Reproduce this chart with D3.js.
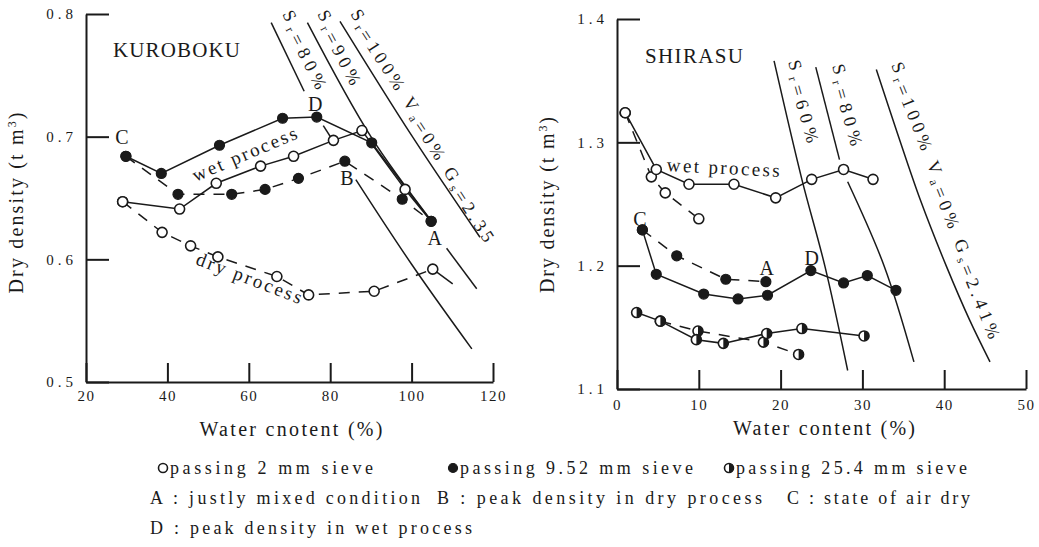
<!DOCTYPE html>
<html><head><meta charset="utf-8">
<script src="https://cdn.jsdelivr.net/npm/d3@7"></script>
<style>
body{margin:0;background:#fff;}
svg text{font-family:"Liberation Serif","Times New Roman",serif;fill:#1a1a1a;}
</style></head><body>
<svg id="c" width="1039" height="547"></svg>
<script>
// ---------- KUROBOKU data ----------
const kuroXTicks=[20,40,60,80,100,120];
const kuroYTicks=[0.5,0.6,0.7,0.8];
const kuroOpenWet=[[29.0,0.647],[43.0,0.641],[52.0,0.662],[62.9,0.676],[71.0,0.684],[80.8,0.697],[87.8,0.705],[98.4,0.657]];
const kuroOpenWetTail=[[98.4,0.657],[104.8,0.631]];
const kuroOpenDry=[[29.0,0.647],[38.7,0.622],[45.7,0.611],[52.4,0.602],[66.9,0.586],[74.7,0.571],[90.8,0.574],[105.2,0.592]];
const kuroOpenDryTail=[[105.2,0.592],[110.1,0.580]];
const kuroFilledWet=[[29.8,0.684],[38.5,0.670],[52.8,0.693],[68.3,0.715],[76.7,0.716],[90.2,0.695],[104.8,0.631]];
const kuroFilledDry=[[29.8,0.684],[42.6,0.653],[55.8,0.653],[64.0,0.657],[72.2,0.666],[83.6,0.680],[97.7,0.649],[104.8,0.631]];
const kuroSr80=[[[65.5,0.793],[73.6,0.737]],[[78.3,0.709],[81.2,0.694]],[[86.3,0.665],[100,0.596],[114.8,0.527]]];
const kuroSr90=[[[74.4,0.793],[90,0.700],[104.5,0.633]],[[108.6,0.609],[116.0,0.576]]];
const kuroSr100=[[[82.4,0.794],[100,0.701],[116.8,0.618]]];
// ---------- SHIRASU data ----------
const shiraXTicks=[0,10,20,30,40,50];
const shiraYTicks=[1.1,1.2,1.3,1.4];
const shiraOpenWet=[[1.0,1.324],[4.8,1.278],[8.8,1.266],[14.3,1.266],[19.4,1.255],[23.8,1.270],[27.7,1.278],[31.3,1.270]];
const shiraOpenDry=[[1.0,1.324],[4.2,1.272],[5.9,1.259],[10.0,1.238]];
const shiraFilledWet=[[3.1,1.229],[4.8,1.193],[10.6,1.177],[14.8,1.173],[18.4,1.176],[23.7,1.196],[27.7,1.186],[30.6,1.192],[34.1,1.180]];
const shiraFilledDry=[[3.1,1.229],[7.3,1.208],[13.3,1.189],[18.2,1.187]];
const shiraHalfWet=[[2.4,1.162],[5.3,1.155],[9.7,1.140],[13.0,1.137],[18.3,1.145],[22.6,1.149],[30.2,1.143]];
const shiraHalfDry=[[5.3,1.155],[9.9,1.147],[17.9,1.138],[22.2,1.128]];
const shiraSr60=[[[19.2,1.366],[22.6,1.270],[25.4,1.200],[28.2,1.115]]];
const shiraSr80=[[[24.3,1.361],[27.2,1.286]],[[28.2,1.268],[32.7,1.199],[36.3,1.122]]];
const shiraSr100=[[[31.7,1.359],[34.3,1.307],[37.1,1.253],[40.3,1.199],[43.1,1.156],[45.6,1.122]]];
// ---------- legend text ----------
const legendSieves=["passing 2 mm sieve","passing 9.52 mm sieve","passing 25.4 mm sieve"];
const legendNotes=["A : justly mixed condition","B : peak density in dry process","C : state of air dry","D : peak density in wet process"];

const svg=d3.select('#c');
const INK='#1a1a1a';
const FONT='Liberation Serif, Times New Roman, serif';

function drawMarker(g,type,cx,cy,r){
  if(type==='filled'){
    g.append('circle').attr('cx',cx).attr('cy',cy).attr('r',r).attr('fill',INK).attr('stroke',INK).attr('stroke-width',1.2);
  } else if(type==='open'){
    g.append('circle').attr('cx',cx).attr('cy',cy).attr('r',r).attr('fill','#fff').attr('stroke',INK).attr('stroke-width',1.6);
  } else if(type==='half'){
    g.append('circle').attr('cx',cx).attr('cy',cy).attr('r',r).attr('fill','#fff').attr('stroke',INK).attr('stroke-width',1.6);
    g.append('path').attr('d',`M${cx},${cy-r} A${r},${r} 0 0 1 ${cx},${cy+r} Z`).attr('fill',INK);
  }
}

function panel(cfg){
  const g=svg.append('g');
  const x=d3.scaleLinear().domain(cfg.xd).range(cfg.xr);
  const y=d3.scaleLinear().domain(cfg.yd).range(cfg.yr);
  const line=d3.line().x(d=>x(d[0])).y(d=>y(d[1]));
  const curve=d3.line().x(d=>x(d[0])).y(d=>y(d[1])).curve(d3.curveCatmullRom);
  const xa=g.append('g').attr('transform',`translate(0,${cfg.yr[0]})`)
    .call(d3.axisBottom(x).tickValues(cfg.xt).tickSizeInner(-19).tickSizeOuter(0).tickPadding(cfg.xpad).tickFormat(d3.format('d')));
  const ya=g.append('g').attr('transform',`translate(${cfg.xr[0]},0)`)
    .call(d3.axisLeft(y).tickValues(cfg.yt).tickSizeInner(-23).tickSizeOuter(0).tickPadding(cfg.ypad).tickFormat(d3.format('.1f')));
  [xa,ya].forEach(a=>{a.attr('font-family',FONT);
    a.selectAll('path,line').attr('stroke',INK).attr('stroke-width',2);
    a.selectAll('text').attr('font-size',15).attr('fill','#333');});
  xa.selectAll('text').attr('letter-spacing',1.5);
  ya.selectAll('text').attr('letter-spacing',4);
  cfg.sat.forEach(segs=>segs.forEach(s=>{
    g.append('path').attr('d',(s.length>2?curve:line)(s)).attr('fill','none').attr('stroke',INK).attr('stroke-width',1.5);
  }));
  cfg.series.forEach(s=>{
    g.append('path').attr('d',line(s.data)).attr('fill','none').attr('stroke',INK).attr('stroke-width',1.5)
      .attr('stroke-dasharray',s.dash?'11,9':null);
  });
  cfg.series.forEach(s=>{ if(s.mk) s.data.forEach(d=>drawMarker(g,s.mk,x(d[0]),y(d[1]),5)); });
  cfg.letters.forEach(l=>{
    g.append('text').attr('x',x(l[1])).attr('y',y(l[2])).attr('text-anchor','middle').attr('dominant-baseline','central')
      .attr('font-size',20).text(l[0]);
  });
  cfg.satLabels.forEach(L=>{
    const t=g.append('text').attr('transform',`translate(${L.px},${L.py}) rotate(${L.a})`).attr('font-size',18)
      .attr('textLength',L.len).attr('lengthAdjust','spacing');
    L.parts.forEach(p=>{
      if(p[1]){ t.append('tspan').attr('dy',4).attr('font-size',12).text(p[0]); t.append('tspan').attr('dy',-4).text(''); }
      else t.append('tspan').text(p[0]);
    });
  });
  cfg.procLabels.forEach(P=>{
    g.append('text').attr('transform',`translate(${P.px},${P.py}) rotate(${P.a})`).attr('text-anchor','middle')
      .attr('font-size',19).attr('textLength',P.len).attr('lengthAdjust','spacing').text(P.t);
  });
  g.append('text').attr('x',cfg.title.x).attr('y',cfg.title.y).attr('font-size',21).attr('textLength',cfg.title.len)
    .attr('lengthAdjust','spacing').text(cfg.title.t);
  g.append('text').attr('x',cfg.xtitle.x).attr('y',cfg.xtitle.y).attr('text-anchor','middle').attr('font-size',20)
    .attr('textLength',cfg.xtitle.len).attr('lengthAdjust','spacing').text(cfg.xtitle.t);
  const yt=g.append('text').attr('transform',`translate(${cfg.ytitle.x},${cfg.ytitle.y}) rotate(-90)`).attr('text-anchor','middle')
    .attr('font-size',20).attr('textLength',cfg.ytitle.len).attr('lengthAdjust','spacing');
  yt.append('tspan').text('Dry density (t m');
  yt.append('tspan').attr('dy',-7).attr('font-size',12).text('3');
  yt.append('tspan').attr('dy',7).text(')');
}

panel({
  xd:[20,120], xr:[86,493], yd:[0.5,0.8], yr:[382,14], xt:kuroXTicks, yt:kuroYTicks, xpad:8, ypad:9,
  sat:[kuroSr80,kuroSr90,kuroSr100],
  series:[
    {data:kuroOpenDry,dash:true,mk:'open'},
    {data:kuroOpenDryTail,dash:false,mk:null},
    {data:kuroFilledDry,dash:true,mk:'filled'},
    {data:kuroOpenWetTail,dash:false,mk:null},
    {data:kuroOpenWet,dash:false,mk:'open'},
    {data:kuroFilledWet,dash:false,mk:'filled'}
  ],
  letters:[['C',28.8,0.700],['D',76.3,0.727],['B',84.1,0.666],['A',105.7,0.617]],
  satLabels:[
    {px:282,py:14,a:63,len:84,parts:[['S'],['r',1],['=80%']]},
    {px:317,py:14,a:62,len:80,parts:[['S'],['r',1],['=90%']]},
    {px:350,py:14,a:57,len:266,parts:[['S'],['r',1],['=100% V'],['a',1],['=0% G'],['s',1],['=2.35']]}
  ],
  procLabels:[{t:'wet process',px:247,py:160,a:-23,len:112},{t:'dry process',px:247,py:284,a:21,len:112}],
  title:{t:'KUROBOKU',x:113,y:57,len:127},
  xtitle:{t:'Water cnotent (%)',x:291,y:436,len:183},
  ytitle:{x:23,y:203,len:181}
});

panel({
  xd:[0,50], xr:[617,1026], yd:[1.1,1.4], yr:[389,19], xt:shiraXTicks, yt:shiraYTicks, xpad:10, ypad:9,
  sat:[shiraSr60,shiraSr80,shiraSr100],
  series:[
    {data:shiraOpenDry,dash:true,mk:'open'},
    {data:shiraFilledDry,dash:true,mk:'filled'},
    {data:shiraHalfDry,dash:true,mk:'half'},
    {data:shiraOpenWet,dash:false,mk:'open'},
    {data:shiraFilledWet,dash:false,mk:'filled'},
    {data:shiraHalfWet,dash:false,mk:'half'}
  ],
  letters:[['C',2.8,1.238],['A',18.3,1.198],['D',23.8,1.206]],
  satLabels:[
    {px:788,py:62,a:74,len:84,parts:[['S'],['r',1],['=60%']]},
    {px:832,py:66,a:74,len:83,parts:[['S'],['r',1],['=80%']]},
    {px:891,py:65,a:68,len:292,parts:[['S'],['r',1],['=100% V'],['a',1],['=0% G'],['s',1],['=2.41%']]}
  ],
  procLabels:[{t:'wet process',px:723,py:174,a:3,len:113}],
  title:{t:'SHIRASU',x:645,y:63,len:98},
  xtitle:{t:'Water content (%)',x:824,y:435,len:182},
  ytitle:{x:554,y:205,len:176}
});

const lg=svg.append('g');
const sieveTypes=['open','filled','half'];
const sieveX=[163,453,729];
const sieveLen=[203,233,231];
legendSieves.forEach((t,i)=>{
  drawMarker(lg,sieveTypes[i],sieveX[i],468,4.5);
  lg.append('text').attr('x',sieveX[i]+7).attr('y',474).attr('font-size',18).attr('textLength',sieveLen[i])
    .attr('lengthAdjust','spacing').text(t);
});
const noteX=[150,437,787,150], noteY=[504,504,504,534], noteLen=[270,325,183,322];
legendNotes.forEach((t,i)=>{
  lg.append('text').attr('x',noteX[i]).attr('y',noteY[i]).attr('font-size',18).attr('textLength',noteLen[i])
    .attr('lengthAdjust','spacing').text(t);
});
</script>
</body></html>
